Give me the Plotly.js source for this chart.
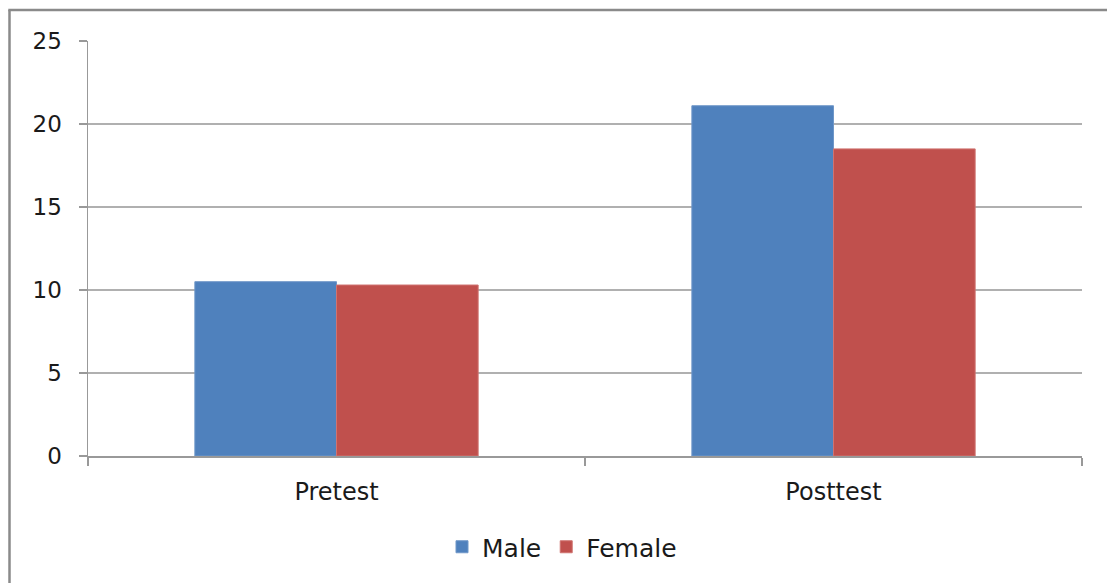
<!DOCTYPE html>
<html><head><meta charset="utf-8">
<script src="https://cdn.plot.ly/plotly-3.0.1.min.js"></script>
<style>html,body{margin:0;padding:0;background:#fff;}#chart{width:1107px;height:583px;}</style>
</head><body><div id="chart"></div>
<script>
const categories = ["Pretest", "Posttest"];
const maleValues = [10.5, 21.1];
const femaleValues = [10.3, 18.5];
const seriesNames = ["Male", "Female"];
const yTicks = [0, 5, 10, 15, 20, 25];

const W = 1107, H = 583, L = 88, R = 25, T = 41, B = 127;
const pw = W - L - R, ph = H - T - B;
const px = x => (x - L) / pw;
const py = y => (H - B - y) / ph;

const traces = [
  {type: "bar", name: seriesNames[0], x: categories, y: maleValues, marker: {color: "#4F81BD", line: {color: "#6f97c8", width: 1}}},
  {type: "bar", name: seriesNames[1], x: categories, y: femaleValues, marker: {color: "#C0504D", line: {color: "#cf7371", width: 1}}}
];

const layout = {
  width: W, height: H,
  margin: {l: L, r: R, t: T, b: B},
  paper_bgcolor: "#fff", plot_bgcolor: "#fff",
  barmode: "group", bargap: 0.43, bargroupgap: 0,
  font: {family: "DejaVu Sans, sans-serif", size: 23, color: "#1a1a1a"},
  xaxis: {
    type: "category", showgrid: false, showline: true, linecolor: "#999999", linewidth: 1.5,
    ticks: "outside", tickson: "boundaries", ticklen: 8, tickcolor: "#999999", tickwidth: 1.5,
    tickfont: {size: 24, color: "#1a1a1a"}, ticklabelstandoff: 14, fixedrange: true
  },
  yaxis: {
    range: [0, 25], tickvals: yTicks, showgrid: true, gridcolor: "#b0b0b0", gridwidth: 1.5,
    showline: true, linecolor: "#999999", linewidth: 1.5, zeroline: false,
    ticks: "outside", ticklen: 8, tickcolor: "#999999", tickwidth: 1.5,
    tickfont: {size: 23, color: "#1a1a1a"}, ticklabelstandoff: 12
  },
  legend: {orientation: "h", x: px(562), xanchor: "center", y: py(547), yanchor: "middle",
    font: {size: 25, color: "#1a1a1a"}, itemwidth: 30, tracegroupgap: 0},
  showlegend: true,
  shapes: [
    {type: "line", xref: "paper", yref: "paper", x0: px(9.5), x1: px(9.5), y0: py(10), y1: py(600), line: {color: "#8a8a8a", width: 2.5}},
    {type: "line", xref: "paper", yref: "paper", x0: px(8.3), x1: px(1120), y0: py(10), y1: py(10), line: {color: "#8a8a8a", width: 2.5}}
  ]
};

Plotly.newPlot("chart", traces, layout, {staticPlot: true, displayModeBar: false});
</script></body></html>
